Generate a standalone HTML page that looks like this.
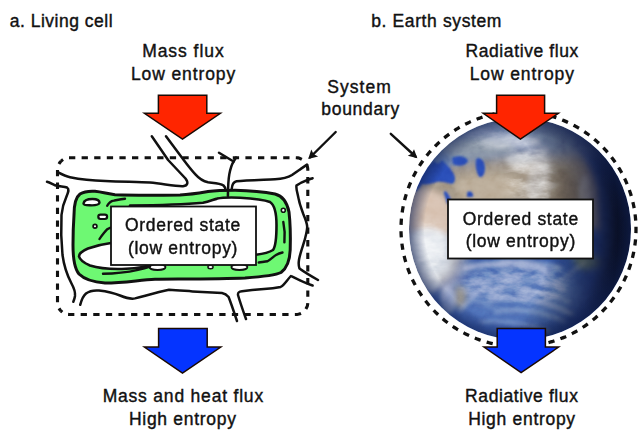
<!DOCTYPE html>
<html><head><meta charset="utf-8">
<style>
html,body{margin:0;padding:0;background:#fff;width:640px;height:441px;overflow:hidden}
svg{display:block}
text{font-family:"Liberation Sans",sans-serif;font-size:17.5px;fill:#111;stroke:#111;stroke-width:0.4px;letter-spacing:0.7px}
</style></head><body>
<svg width="640" height="441" viewBox="0 0 640 441">
<defs>
<clipPath id="ec"><circle cx="520" cy="229" r="111"/></clipPath>
<filter id="bl1" x="-50%" y="-50%" width="200%" height="200%"><feGaussianBlur stdDeviation="1"/></filter>
<filter id="bl3" x="-50%" y="-50%" width="200%" height="200%"><feGaussianBlur stdDeviation="3.5"/></filter>
<filter id="bl6" x="-50%" y="-50%" width="200%" height="200%"><feGaussianBlur stdDeviation="7"/></filter>
<filter id="bl2" x="-50%" y="-50%" width="200%" height="200%"><feGaussianBlur stdDeviation="2"/></filter>
<filter id="clouds" x="-30%" y="-30%" width="160%" height="160%">
  <feGaussianBlur in="SourceAlpha" stdDeviation="6" result="m"/>
  <feTurbulence type="fractalNoise" baseFrequency="0.05 0.11" numOctaves="4" seed="7" result="t"/>
  <feColorMatrix in="t" type="matrix" values="0 0 0 0 1  0 0 0 0 1  0 0 0 0 1  2.2 0 0 0 -0.7" result="ta"/>
  <feComposite in="ta" in2="m" operator="in" result="c"/>
  <feColorMatrix in="c" type="matrix" values="1 0 0 0 0  0 1 0 0 0  0 0 1 0 0  0 0 0 1.3 0"/>
</filter>
<radialGradient id="shade" cx="0" cy="0" r="1" gradientUnits="userSpaceOnUse" gradientTransform="translate(468 228) scale(150 215)">
  <stop offset="0" stop-color="#000" stop-opacity="0"/>
  <stop offset="0.55" stop-color="#000" stop-opacity="0"/>
  <stop offset="0.85" stop-color="#0a1030" stop-opacity="0.65"/>
  <stop offset="1" stop-color="#050818" stop-opacity="0.92"/>
</radialGradient>
<radialGradient id="limb" cx="520" cy="229" r="111" gradientUnits="userSpaceOnUse">
  <stop offset="0.86" stop-color="#102050" stop-opacity="0"/>
  <stop offset="1" stop-color="#102050" stop-opacity="0.6"/>
</radialGradient>
<filter id="tex" x="0" y="0" width="100%" height="100%">
  <feTurbulence type="fractalNoise" baseFrequency="0.12" numOctaves="3" seed="11"/>
  <feColorMatrix type="matrix" values="0.33 0.33 0.33 0 0  0.33 0.33 0.33 0 0  0.33 0.33 0.33 0 0  0 0 0 0 1"/>
</filter>
</defs>
<rect width="640" height="441" fill="#fff"/>

<!-- ===== Texts ===== -->
<text x="9.8" y="26.8" style="letter-spacing:0.5px">a. Living cell</text>
<text x="183.4" y="56.7" text-anchor="middle" style="letter-spacing:0.95px">Mass flux</text>
<text x="183.5" y="79.5" text-anchor="middle" style="letter-spacing:0.9px">Low entropy</text>
<text x="359.5" y="93" text-anchor="middle" style="letter-spacing:1.05px">System</text>
<text x="360.6" y="115.4" text-anchor="middle">boundary</text>
<text x="371.2" y="27.4" style="letter-spacing:0.62px">b. Earth system</text>
<text x="522.2" y="56.9" text-anchor="middle" style="letter-spacing:0.6px">Radiative flux</text>
<text x="522.3" y="79.7" text-anchor="middle" style="letter-spacing:0.9px">Low entropy</text>
<text x="183.3" y="401.5" text-anchor="middle" style="letter-spacing:0.8px">Mass and heat flux</text>
<text x="182.8" y="425.1" text-anchor="middle">High entropy</text>
<text x="521.8" y="402.3" text-anchor="middle" style="letter-spacing:0.6px">Radiative flux</text>
<text x="522" y="424.5" text-anchor="middle">High entropy</text>

<!-- ===== Earth ===== -->
<g clip-path="url(#ec)">
  <rect x="405" y="115" width="230" height="230" fill="#304f9c"/>
  <g filter="url(#bl6)">
    <ellipse cx="505" cy="132" rx="95" ry="22" fill="#75849f"/>
    <ellipse cx="435" cy="230" rx="35" ry="60" fill="#a8a8b0"/>
    <ellipse cx="515" cy="295" rx="70" ry="30" fill="#4a68b0"/>
  </g>
  <!-- land -->
  <g filter="url(#bl3)">
    <path d="M455,160 C480,148 520,140 560,140 C580,145 592,165 598,190 L600,230 C600,235 590,225 582,218 C570,214 558,216 545,213 C520,206 495,206 472,214 C462,225 456,240 452,262 C445,270 430,275 410,272 L407,200 C420,182 435,168 455,160 Z" fill="#9a8c7a"/>
    <path d="M407,192 C418,186 432,188 448,198 C452,210 452,222 450,232 C440,236 425,236 407,234 Z" fill="#d4bcaa"/>
    <path d="M407,232 C420,230 440,232 452,236 C454,250 452,262 448,272 C438,276 422,276 408,272 Z" fill="#c4ccd8"/>
    <path d="M455,180 C475,172 505,172 522,182 C518,198 498,206 470,212 C462,205 455,195 455,180 Z" fill="#b4a48e"/>
    <path d="M540,165 C560,162 575,172 582,190 C584,206 572,214 556,212 C540,206 532,195 528,182 Z" fill="#7a6e60"/>
    <path d="M455,287 C462,283 468,290 466,300 C464,308 458,312 455,305 Z" fill="#8a8478"/>
    <path d="M572,255 C582,250 596,254 602,262 C598,270 588,272 578,268 Z" fill="#6a8070"/>
  </g>
  <!-- europe / top band -->
  <g filter="url(#bl6)">
    <path d="M415,155 C445,125 490,110 530,110 C570,112 600,130 620,155 C595,158 570,155 550,158 C520,156 490,158 460,164 C445,168 428,166 415,155 Z" fill="#6a7ca4"/>
  </g>
  <g filter="url(#bl3)">
    <ellipse cx="470" cy="148" rx="45" ry="10" fill="#7d8a9c"/>
    <ellipse cx="430" cy="160" rx="22" ry="10" fill="#5f76a8"/>
  </g>
  <!-- seas -->
  <g filter="url(#bl1)" fill="#2546b0">
    <path d="M428,166 L434,161 L438,164 L442,160 L446,164 L450,168 L454,174 C456,179 455,183 452,184 C446,183 442,181 437,182 C431,184 426,185 421,184 C418,179 420,172 428,166 Z"/>
    <path d="M412,170 C416,166 422,168 425,174 C424,182 420,190 414,192 C410,186 410,176 412,170 Z"/>
    <path d="M452,158 C458,155 466,156 468,161 C466,166 458,167 453,164 Z"/>
    <path d="M476,159 C480,156 485,161 485,168 C485,174 483,178 479,177 C476,172 475,165 476,159 Z"/>
    <path d="M444,191 C447,190 450,196 452,202 L447,204 C446,198 443,194 444,191 Z"/>
    <path d="M467,192 C471,190 474,193 473,197 L467,197 Z"/>
  </g>
  <!-- cloud streaks -->
  <g filter="url(#bl2)" fill="#e8ecf2">
    <ellipse cx="510" cy="142" rx="30" ry="6" opacity="0.45"/>
    
    <ellipse cx="538" cy="175" rx="9" ry="28" opacity="0.4" transform="rotate(15 538 175)"/>
    <ellipse cx="520" cy="160" rx="14" ry="6" opacity="0.55"/>
    <ellipse cx="585" cy="195" rx="6" ry="20" opacity="0.35"/>
    <ellipse cx="428" cy="245" rx="18" ry="18" opacity="0.75"/>
    <ellipse cx="430" cy="278" rx="10" ry="14" opacity="0.55"/>
    <ellipse cx="448" cy="300" rx="8" ry="14" opacity="0.4"/>
  </g>
  <g filter="url(#bl2)" fill="none" stroke="#e6eaf4" stroke-linecap="round" opacity="0.9">
    <path d="M465,268 C490,262 520,262 545,270" stroke-width="5" opacity="0.6"/>
    <path d="M500,262 C520,258 540,262 560,268" stroke-width="3" opacity="0.5"/>
    <path d="M470,282 C500,276 535,278 565,290" stroke-width="3" opacity="0.5"/>
    <path d="M475,292 C505,286 540,290 570,302" stroke-width="2.5" opacity="0.45"/>
    <path d="M490,300 C520,296 548,302 572,314" stroke-width="3.5" opacity="0.5"/>
    <path d="M495,312 C520,308 545,312 565,322" stroke-width="2.5" opacity="0.45"/>
    <path d="M480,322 C505,320 530,324 550,332" stroke-width="2.5" opacity="0.4"/>
    <path d="M460,310 C470,300 478,290 490,282" stroke-width="3" opacity="0.4"/>
    <path d="M555,285 C565,278 575,270 585,262" stroke-width="3" opacity="0.35"/>
    <path d="M458,255 C470,250 485,248 500,250" stroke-width="3" opacity="0.5"/>
  </g>
  <g filter="url(#clouds)" opacity="0.55">
    <ellipse cx="500" cy="138" rx="40" ry="10" fill="#fff" opacity="0.5"/>
    <ellipse cx="530" cy="178" rx="24" ry="32" fill="#fff" opacity="0.8"/>
    <ellipse cx="428" cy="252" rx="20" ry="28" fill="#fff"/>
    <ellipse cx="515" cy="285" rx="55" ry="20" fill="#fff" opacity="0.6"/>
  </g>
  <rect x="405" y="115" width="230" height="230" filter="url(#tex)" opacity="0.25" style="mix-blend-mode:overlay"/>
  <circle cx="520" cy="229" r="111" fill="url(#shade)"/>
  <circle cx="520" cy="229" r="111" fill="url(#limb)"/>
</g>
<path id="dcirc" d="M635.54,239.34 L635.43,240.58 L635.30,241.82 L635.16,243.07 L635.00,244.31 L634.83,245.54 M633.78,251.72 L633.53,252.94 L633.27,254.17 L633.00,255.39 L632.71,256.60 L632.41,257.82 M630.71,263.84 L630.34,265.04 L629.95,266.22 L629.55,267.41 L629.13,268.59 L628.70,269.76 M626.38,275.57 L625.87,276.72 L625.36,277.86 L624.83,278.99 L624.30,280.12 L623.75,281.24 M620.81,286.78 L620.19,287.86 L619.56,288.94 L618.92,290.01 L618.26,291.08 L617.60,292.14 M614.09,297.33 L613.36,298.34 L612.62,299.34 L611.86,300.34 L611.10,301.33 L610.32,302.31 M606.29,307.10 L605.45,308.03 L604.61,308.95 L603.75,309.86 L602.89,310.76 L602.01,311.66 M597.49,315.99 L596.56,316.82 L595.62,317.65 L594.67,318.46 L593.72,319.27 L592.75,320.06 M587.80,323.89 L586.78,324.62 L585.76,325.34 L584.73,326.05 L583.70,326.75 L582.65,327.44 M577.32,330.72 L576.23,331.34 L575.14,331.95 L574.04,332.54 L572.94,333.13 L571.83,333.70 M566.17,336.39 L565.03,336.90 L563.88,337.38 L562.72,337.86 L561.56,338.33 L560.39,338.78 M554.49,340.85 L553.29,341.23 L552.10,341.59 L550.90,341.94 L549.70,342.28 L548.49,342.61 M542.39,344.05 L541.17,344.29 L539.94,344.53 L538.71,344.75 L537.48,344.96 L536.24,345.15 M530.03,345.93 L528.78,346.05 L527.54,346.15 L526.29,346.24 L525.04,346.32 L523.80,346.38 M517.53,346.50 L516.28,346.48 L515.04,346.45 L513.79,346.41 L512.54,346.35 L511.29,346.28 M505.05,345.73 L503.81,345.58 L502.57,345.42 L501.33,345.24 L500.10,345.05 L498.86,344.85 M492.72,343.64 L491.50,343.36 L490.29,343.06 L489.08,342.76 L487.87,342.44 L486.66,342.10 M480.68,340.25 L479.50,339.84 L478.32,339.42 L477.15,338.98 L475.98,338.54 L474.82,338.08 M469.07,335.60 L467.94,335.07 L466.81,334.52 L465.69,333.97 L464.58,333.40 L463.47,332.82 M458.02,329.74 L456.95,329.09 L455.89,328.43 L454.84,327.76 L453.79,327.08 L452.75,326.38 M447.65,322.74 L446.66,321.98 L445.68,321.21 L444.70,320.43 L443.73,319.64 L442.77,318.84 M438.09,314.68 L437.18,313.82 L436.29,312.95 L435.40,312.07 L434.52,311.18 L433.65,310.28 M429.44,305.65 L428.63,304.69 L427.83,303.73 L427.04,302.77 L426.26,301.79 L425.49,300.80 M421.80,295.75 L421.09,294.71 L420.40,293.67 L419.72,292.63 L419.05,291.57 L418.39,290.51 M415.25,285.09 L414.66,283.99 L414.08,282.88 L413.51,281.77 L412.96,280.65 L412.42,279.52 M409.87,273.80 L409.40,272.64 L408.95,271.47 L408.50,270.31 L408.07,269.13 L407.65,267.96 M405.73,262.00 L405.38,260.79 L405.05,259.59 L404.73,258.38 L404.43,257.17 L404.13,255.95 M402.86,249.82 L402.64,248.59 L402.44,247.36 L402.25,246.12 L402.08,244.88 L401.92,243.64 M401.30,237.41 L401.22,236.17 L401.15,234.92 L401.09,233.67 L401.05,232.42 L401.02,231.17 M401.07,224.91 L401.12,223.66 L401.18,222.41 L401.26,221.16 L401.35,219.92 L401.45,218.67 M402.17,212.45 L402.35,211.21 L402.55,209.98 L402.76,208.75 L402.98,207.51 L403.22,206.29 M404.59,200.18 L404.90,198.97 L405.23,197.76 L405.57,196.56 L405.92,195.36 L406.28,194.16 M408.30,188.23 L408.74,187.06 L409.19,185.90 L409.66,184.74 L410.13,183.58 L410.62,182.43 M413.26,176.75 L413.82,175.63 L414.39,174.52 L414.98,173.42 L415.57,172.32 L416.18,171.23 M419.41,165.86 L420.08,164.81 L420.77,163.77 L421.47,162.73 L422.18,161.70 L422.90,160.68 M426.68,155.68 L427.46,154.71 L428.26,153.75 L429.07,152.79 L429.88,151.84 L430.71,150.91 M434.99,146.34 L435.88,145.46 L436.77,144.58 L437.67,143.72 L438.58,142.86 L439.51,142.02 M444.25,137.93 L445.22,137.15 L446.21,136.37 L447.20,135.61 L448.19,134.86 L449.20,134.11 M454.35,130.56 L455.40,129.88 L456.46,129.21 L457.53,128.56 L458.60,127.92 L459.68,127.28 M465.18,124.29 L466.30,123.73 L467.42,123.18 L468.55,122.65 L469.68,122.12 L470.82,121.61 M476.61,119.22 L477.78,118.78 L478.96,118.35 L480.14,117.94 L481.32,117.54 L482.51,117.15 M488.52,115.39 L489.73,115.08 L490.94,114.78 L492.16,114.49 L493.38,114.22 L494.60,113.96 M500.76,112.85 L502.00,112.66 L503.24,112.50 L504.48,112.34 L505.72,112.20 L506.96,112.07 M513.21,111.62 L514.46,111.57 L515.71,111.53 L516.96,111.51 L518.21,111.50 L519.46,111.50 M525.72,111.72 L526.96,111.81 L528.21,111.90 L529.46,112.01 L530.70,112.14 L531.94,112.27 M538.14,113.15 L539.37,113.37 L540.60,113.60 L541.83,113.84 L543.05,114.09 L544.27,114.36 M550.34,115.90 L551.55,116.24 L552.74,116.60 L553.94,116.97 L555.13,117.35 L556.31,117.75 M562.19,119.92 L563.34,120.39 L564.50,120.88 L565.64,121.37 L566.79,121.88 L567.92,122.40 M573.53,125.18 L574.63,125.78 L575.73,126.38 L576.82,126.99 L577.90,127.62 L578.97,128.26 M584.26,131.62 L585.29,132.33 L586.31,133.04 L587.33,133.77 L588.34,134.51 L589.34,135.26 M594.23,139.16 L595.19,139.97 L596.13,140.80 L597.06,141.63 L597.99,142.47 L598.90,143.32 M603.35,147.72 L604.21,148.63 L605.06,149.55 L605.90,150.47 L606.73,151.41 L607.56,152.35 M611.51,157.20 L612.27,158.20 L613.02,159.20 L613.76,160.21 L614.48,161.22 L615.20,162.25 M618.62,167.50 L619.27,168.56 L619.90,169.64 L620.53,170.72 L621.14,171.81 L621.75,172.91 M624.59,178.49 L625.12,179.62 L625.64,180.75 L626.15,181.90 L626.64,183.04 L627.12,184.20 M629.36,190.05 L629.76,191.23 L630.16,192.42 L630.54,193.61 L630.91,194.80 L631.27,196.00 M632.87,202.05 L633.15,203.27 L633.42,204.49 L633.67,205.72 L633.91,206.94 L634.14,208.17 M635.08,214.36 L635.23,215.60 L635.37,216.85 L635.49,218.09 L635.60,219.33 L635.70,220.58 M635.98,226.84 L636.00,228.09 L636.00,229.34 L635.99,230.59 L635.97,231.84 L635.93,233.09" fill="none" stroke="#111" stroke-width="3.3"/>

<!-- ===== Cell ===== -->
<path id="drect" d="M61.01,161.21 L61.99,160.34 L63.05,159.58 M69.00,157.71 L70.05,157.70 L71.10,157.70 L72.15,157.70 L73.20,157.70 L74.25,157.70 L75.30,157.70 M81.60,157.70 L82.65,157.70 L83.70,157.70 L84.75,157.70 L85.80,157.70 L86.85,157.70 L87.90,157.70 M94.20,157.70 L95.25,157.70 L96.30,157.70 L97.35,157.70 L98.40,157.70 L99.45,157.70 L100.50,157.70 M106.80,157.70 L107.85,157.70 L108.90,157.70 L109.95,157.70 L111.00,157.70 L112.05,157.70 L113.10,157.70 M119.40,157.70 L120.45,157.70 L121.50,157.70 L122.55,157.70 L123.60,157.70 L124.65,157.70 L125.70,157.70 M132.00,157.70 L133.05,157.70 L134.10,157.70 L135.15,157.70 L136.20,157.70 L137.25,157.70 L138.30,157.70 M144.60,157.70 L145.65,157.70 L146.70,157.70 L147.75,157.70 L148.80,157.70 L149.85,157.70 L150.90,157.70 M157.20,157.70 L158.25,157.70 L159.30,157.70 L160.35,157.70 L161.40,157.70 L162.45,157.70 L163.50,157.70 M169.80,157.70 L170.85,157.70 L171.90,157.70 L172.95,157.70 L174.00,157.70 L175.05,157.70 L176.10,157.70 M182.40,157.70 L183.45,157.70 L184.50,157.70 L185.55,157.70 L186.60,157.70 L187.65,157.70 L188.70,157.70 M195.00,157.70 L196.05,157.70 L197.10,157.70 L198.15,157.70 L199.20,157.70 L200.25,157.70 L201.30,157.70 M207.60,157.70 L208.65,157.70 L209.70,157.70 L210.75,157.70 L211.80,157.70 L212.85,157.70 L213.90,157.70 M220.20,157.70 L221.25,157.70 L222.30,157.70 L223.35,157.70 L224.40,157.70 L225.45,157.70 L226.50,157.70 M232.80,157.70 L233.85,157.70 L234.90,157.70 L235.95,157.70 L237.00,157.70 L238.05,157.70 L239.10,157.70 M245.40,157.70 L246.45,157.70 L247.50,157.70 L248.55,157.70 L249.60,157.70 L250.65,157.70 L251.70,157.70 M258.00,157.70 L259.05,157.70 L260.10,157.70 L261.15,157.70 L262.20,157.70 L263.25,157.70 L264.30,157.70 M270.60,157.70 L271.65,157.70 L272.70,157.70 L273.75,157.70 L274.80,157.70 L275.85,157.70 L276.90,157.70 M283.20,157.70 L284.25,157.70 L285.30,157.70 L286.35,157.70 L287.40,157.70 L288.45,157.70 L289.50,157.70 M295.80,157.70 L296.84,157.75 L297.88,157.88 L298.91,158.11 L299.91,158.43 L300.88,158.83 L301.81,159.31 M306.69,164.66 L307.09,165.63 L307.40,166.63 L307.62,167.66 L307.76,168.70 L307.80,169.75 L307.80,170.80 M307.80,177.10 L307.80,178.15 L307.80,179.20 L307.80,180.25 L307.80,181.30 L307.80,182.35 L307.80,183.40 M307.80,189.70 L307.80,190.75 L307.80,191.80 L307.80,192.85 L307.80,193.90 L307.80,194.95 L307.80,196.00 M307.80,202.30 L307.80,203.35 L307.80,204.40 L307.80,205.45 L307.80,206.50 L307.80,207.55 L307.80,208.60 M307.80,214.90 L307.80,215.95 L307.80,217.00 L307.80,218.05 L307.80,219.10 L307.80,220.15 L307.80,221.20 M307.80,227.50 L307.80,228.55 L307.80,229.60 L307.80,230.65 L307.80,231.70 L307.80,232.75 L307.80,233.80 M307.80,240.10 L307.80,241.15 L307.80,242.20 L307.80,243.25 L307.80,244.30 L307.80,245.35 L307.80,246.40 M307.80,252.70 L307.80,253.75 L307.80,254.80 L307.80,255.85 L307.80,256.90 L307.80,257.95 L307.80,259.00 M307.80,265.30 L307.80,266.35 L307.80,267.40 L307.80,268.45 L307.80,269.50 L307.80,270.55 L307.80,271.60 M307.80,277.90 L307.80,278.95 L307.80,280.00 L307.80,281.05 L307.80,282.10 L307.80,283.15 L307.80,284.20 M307.80,290.50 L307.80,291.55 L307.80,292.60 L307.80,293.65 L307.80,294.70 L307.80,295.75 L307.80,296.80 M307.79,303.09 L307.69,304.14 L307.50,305.17 L307.22,306.18 L306.85,307.17 L306.40,308.12 L305.87,309.02 M300.98,313.32 L300.01,313.74 L299.02,314.06 L297.99,314.30 L296.95,314.44 L295.90,314.50 L294.85,314.50 M288.55,314.50 L287.50,314.50 L286.45,314.50 L285.40,314.50 L284.35,314.50 L283.30,314.50 L282.25,314.50 M275.95,314.50 L274.90,314.50 L273.85,314.50 L272.80,314.50 L271.75,314.50 L270.70,314.50 L269.65,314.50 M263.35,314.50 L262.30,314.50 L261.25,314.50 L260.20,314.50 L259.15,314.50 L258.10,314.50 L257.05,314.50 M250.75,314.50 L249.70,314.50 L248.65,314.50 L247.60,314.50 L246.55,314.50 L245.50,314.50 L244.45,314.50 M238.15,314.50 L237.10,314.50 L236.05,314.50 L235.00,314.50 L233.95,314.50 L232.90,314.50 L231.85,314.50 M225.55,314.50 L224.50,314.50 L223.45,314.50 L222.40,314.50 L221.35,314.50 L220.30,314.50 L219.25,314.50 M212.95,314.50 L211.90,314.50 L210.85,314.50 L209.80,314.50 L208.75,314.50 L207.70,314.50 L206.65,314.50 M200.35,314.50 L199.30,314.50 L198.25,314.50 L197.20,314.50 L196.15,314.50 L195.10,314.50 L194.05,314.50 M187.75,314.50 L186.70,314.50 L185.65,314.50 L184.60,314.50 L183.55,314.50 L182.50,314.50 L181.45,314.50 M175.15,314.50 L174.10,314.50 L173.05,314.50 L172.00,314.50 L170.95,314.50 L169.90,314.50 L168.85,314.50 M162.55,314.50 L161.50,314.50 L160.45,314.50 L159.40,314.50 L158.35,314.50 L157.30,314.50 L156.25,314.50 M149.95,314.50 L148.90,314.50 L147.85,314.50 L146.80,314.50 L145.75,314.50 L144.70,314.50 L143.65,314.50 M137.35,314.50 L136.30,314.50 L135.25,314.50 L134.20,314.50 L133.15,314.50 L132.10,314.50 L131.05,314.50 M124.75,314.50 L123.70,314.50 L122.65,314.50 L121.60,314.50 L120.55,314.50 L119.50,314.50 L118.45,314.50 M112.15,314.50 L111.10,314.50 L110.05,314.50 L109.00,314.50 L107.95,314.50 L106.90,314.50 L105.85,314.50 M99.55,314.50 L98.50,314.50 L97.45,314.50 L96.40,314.50 L95.35,314.50 L94.30,314.50 L93.25,314.50 M86.95,314.50 L85.90,314.50 L84.85,314.50 L83.80,314.50 L82.75,314.50 L81.70,314.50 L80.65,314.50 M74.35,314.50 L73.30,314.50 L72.25,314.50 L71.20,314.50 L70.15,314.50 L69.10,314.49 L68.06,314.41 M62.28,312.09 L61.01,310.99 M61.01,310.99 L60.27,310.17 L59.60,309.29 L59.02,308.34 M57.50,302.30 L57.50,301.25 L57.50,300.20 L57.50,299.15 L57.50,298.10 L57.50,297.05 L57.50,296.00 M57.50,289.70 L57.50,288.65 L57.50,287.60 L57.50,286.55 L57.50,285.50 L57.50,284.45 L57.50,283.40 M57.50,277.10 L57.50,276.05 L57.50,275.00 L57.50,273.95 L57.50,272.90 L57.50,271.85 L57.50,270.80 M57.50,264.50 L57.50,263.45 L57.50,262.40 L57.50,261.35 L57.50,260.30 L57.50,259.25 L57.50,258.20 M57.50,251.90 L57.50,250.85 L57.50,249.80 L57.50,248.75 L57.50,247.70 L57.50,246.65 L57.50,245.60 M57.50,239.30 L57.50,238.25 L57.50,237.20 L57.50,236.15 L57.50,235.10 L57.50,234.05 L57.50,233.00 M57.50,226.70 L57.50,225.65 L57.50,224.60 L57.50,223.55 L57.50,222.50 L57.50,221.45 L57.50,220.40 M57.50,214.10 L57.50,213.05 L57.50,212.00 L57.50,210.95 L57.50,209.90 L57.50,208.85 L57.50,207.80 M57.50,201.50 L57.50,200.45 L57.50,199.40 L57.50,198.35 L57.50,197.30 L57.50,196.25 L57.50,195.20 M57.50,188.90 L57.50,187.85 L57.50,186.80 L57.50,185.75 L57.50,184.70 L57.50,183.65 L57.50,182.60 M57.50,176.30 L57.50,175.25 L57.50,174.20 L57.50,173.15 L57.50,172.10 L57.50,171.05 L57.50,170.00 M58.97,163.95 L59.56,162.98 L60.25,162.06 L61.01,161.21" fill="none" stroke="#111" stroke-width="3.1"/>


<!-- cell body -->
<g stroke="#111" stroke-linecap="round" stroke-linejoin="round">
<path d="M74,215 C74,203 76,197 80,194 C84,191.5 90,191 95,191.3 C102,192 108,194 115,194.8 C130,195.3 160,195.3 180,195 C192,194.5 200,193 208,191.6 C215,190.6 222,190.2 235,190.2 C250,190.5 265,192 275,194 C283,196 287,202 289,212 C290.5,225 290.5,240 290.2,250 C289.8,260 287,268 281,272.5 C275,275.5 265,276.5 245,278 C220,279 180,279 155,279.3 C140,279.8 125,283 105,283 C92,282 84,279 79,274 C74,268 73,258 73,245 C73,232 73.5,222 74,215 Z" fill="#6ef873" stroke-width="3"/>
<path d="M130,205.5 C160,205.3 185,204.5 203,202.8 C210,201 215,199 217.2,198.6 C222,197.5 228,197.2 240,197.7 C255,198.5 265,200 270,202 C274.5,205 276.5,212 276.5,225 C276.5,238 276,246 273,250 C269,252.5 262,254 256,254.8 L150,250 L111,243 C103,244 95,246 88,248.5 C82,251 79,254 79,256.5 C80,260 84,263 90,265.5 C98,268 110,269.5 126,268.8 C138,268.3 146,267 152,264.5 L152,215 Z" fill="#fff" stroke-width="2.6"/>
<path d="M83.5,203.5 C84,200 88,199 92.5,199 C97,199 99.5,200.8 99.5,202.8 C99,205 94,205.5 89.5,205.3 C86,205.2 83.5,204.8 83.5,203.5 Z" fill="#fff" stroke-width="2.4"/>
<rect x="98.3" y="214.6" width="8.8" height="4.4" rx="2.2" fill="#fff" stroke-width="2.2"/>
<circle cx="95" cy="226.3" r="1.9" fill="#fff" stroke-width="1.7"/>
<circle cx="283.3" cy="210.2" r="2" fill="#fff" stroke-width="1.6"/>
<ellipse cx="157.5" cy="267" rx="8" ry="3" fill="#fff" stroke-width="1.8"/>
<ellipse cx="239.4" cy="267" rx="8" ry="3" fill="#fff" stroke-width="1.8"/>
<ellipse cx="210.5" cy="267" rx="2.6" ry="1.8" fill="#fff" stroke-width="1.4"/>
</g>
<g stroke="#111" stroke-width="2.4" fill="none" stroke-linecap="round" stroke-linejoin="round">
<path d="M99.5,239 C101,236.5 103,234 104.5,232.2 C106,230 107.5,228.5 110.5,227.7"/>
<path d="M107.2,205.8 C109,202.5 111,201 113.7,200.6 C117,200 121,199.2 125,198.7"/>
<path d="M283.3,222 C285,230 285,236 284.4,242.4"/>
<path d="M258.75,262.5 C262,262 265,261.8 267.5,261.25 C271,259.5 273.5,256.5 276,255 C278,253.8 280,253 282.5,252.5"/>
<path d="M103,273.8 C115,273.6 128,272 138,269.8 C143,268.8 147,267.6 150,266.5"/>
</g>
<!-- membrane lines -->
<g stroke="#111" stroke-width="2.5" fill="none" stroke-linecap="round" stroke-linejoin="round">
<path d="M57.7,172.2 C62,174.5 66,176.5 70,177.3 C80,179.3 92,180.6 105.3,181 C125,181.8 140,182 150,182.6 C165,184.2 176,186.5 183,186.2 C188,185.8 188.5,182.5 185.5,178.5 L168.1,160 L151.8,136.3"/>
<path d="M166,136.3 L180.9,156.3 C186,163 190,168.5 195.4,174.4 C199,178.5 202,181 208,182.3 C214,183 220,183 223.5,185.5 C225.5,187.5 225.6,189 225.6,190"/>
<path d="M227.9,196 C228,188 228.3,180 229.3,174.4 C230.5,168 232,164 233.6,161.5 L236,157.5"/>
<path d="M219,152.7 L233.6,161.5"/>
<path d="M231.7,189 C232,185 233,182 236.5,181.2 C245,180.6 260,180 275,179.3 C283,178.8 288,177.5 292,175 C297,171.5 302,168 307,164.6"/>
<path d="M312.6,178.2 C306,180.5 300,182.5 296.5,185.5 C296,188.5 297,192 297.7,194.5 C299,202 301,208 303.1,213.5 C305,218 307.2,223 307.2,227 C307,232 305.5,236.5 304.5,240.7 C302.5,247 300,254 299,259.7 C298.5,263 298.5,266 299.5,268.5 C305,272.5 311,276 318,280"/>
<path d="M47,181.8 C50,182.5 52,184 55,185.3 C59,186.5 64,186.5 67,187.5 C69.5,189 68.5,192 66.5,196.5 C63.5,203 62,209 61.5,215 C61,225 61,240 62.5,255 C64,266 67.5,276 71.5,283.5 C74.5,289 75.5,292.5 75,296 C74.5,299 73.8,300.5 73.3,301.8"/>
<path d="M80.2,304.8 C81.5,300 83,296 86,293.5 C89,291.2 93,290 99,290.5 C108,291.5 114,293 120,295.5 C126,298 130,299.5 135,298.4 C148,295 158,292 169,289.8 C178,290.3 185,290.9 192.5,291.4 C202,292 212,292.5 222,293 C225,293.5 227,295 228.6,297 C231,303 234,312 237,321"/>
<path d="M246,319 C243.5,312 240,302 238,295 C237.8,292.8 238.4,291.6 242,291.2 C250,290.3 258,289.6 264,289.1 C270,288.6 276,287.8 280.6,286.9 C284,285.5 287,280 290.9,276 C297,279 305,283 312.6,285.5"/>
</g>

<!-- Ordered state boxes -->
<rect x="111" y="206.5" width="145" height="58.5" fill="#fff" stroke="#111" stroke-width="1.8"/>
<text x="183" y="231.3" text-anchor="middle">Ordered state</text>
<text x="183" y="253.5" text-anchor="middle">(low entropy)</text>
<rect x="448" y="199.5" width="145" height="59" fill="#fff" stroke="#111" stroke-width="1.8"/>
<text x="520.8" y="225" text-anchor="middle">Ordered state</text>
<text x="520.8" y="247" text-anchor="middle">(low entropy)</text>

<!-- System boundary arrows -->
<g stroke="#111" stroke-width="2.4" fill="none" stroke-linecap="round">
  <line x1="335.7" y1="132" x2="310" y2="157.5"/>
  <line x1="390.8" y1="133.8" x2="415.5" y2="156.5"/>
</g>
<path d="M308.2,159.1 L311.3,149.5 L313.5,154 L318.1,156.5 Z" fill="#111"/>
<path d="M417.4,158.2 L414,149.3 L411.8,153.6 L407.8,155.7 Z" fill="#111"/>

<!-- Flux arrows -->
<g stroke="#1a0a05" stroke-width="1.5" stroke-linejoin="miter" stroke-miterlimit="10">
<path d="M158.4,95.2 H206.8 V113.3 H220.4 L182.5,139 L144.4,113.3 H158.4 Z" fill="#ff2500"/>
<path d="M496.6,95.3 H544.6 V113.3 H558.4 L520.4,139.2 L483.2,113.3 H496.6 Z" fill="#ff2500"/>
<path d="M158.6,328.6 H207.2 V347.1 H220.8 L182.5,373 L144.4,347.1 H158.6 Z" fill="#0534ff"/>
<path d="M497.2,328.6 H545.4 V347.1 H558.6 L521.1,372.6 L484,347.1 H497.2 Z" fill="#0534ff"/>
</g>
</svg>
</body></html>
